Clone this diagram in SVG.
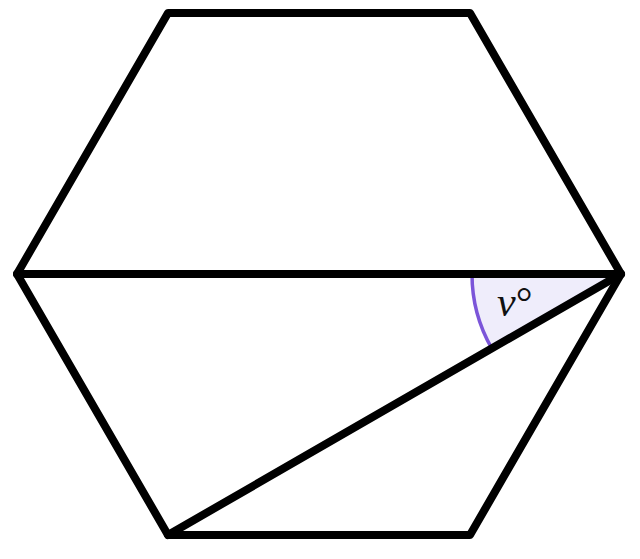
<svg xmlns="http://www.w3.org/2000/svg" width="640" height="559" viewBox="0 0 640 559">
<style>
.edge{fill:none;stroke:#000;stroke-width:8;stroke-linejoin:round;stroke-linecap:round}
.lbl{font-family:"Liberation Serif","DejaVu Serif",serif;font-style:italic;font-size:42px;fill:#111}
</style>
<rect width="640" height="559" fill="#fff"/>
<g id="angle">
<path d="M621 274 L472 274 A149 149 0 0 0 491.9 348.6 Z" fill="#efedfb"/>
<path d="M472 274 A149 149 0 0 0 491.9 348.6" fill="none" stroke="#7b55d9" stroke-width="3.5"/>
<text class="lbl" x="497" y="316">ν<tspan font-style="normal">°</tspan></text>
</g>
<g id="connectors">
<line class="edge" x1="17" y1="274" x2="621" y2="274"/>
<line class="edge" x1="621" y1="274" x2="168" y2="535"/>
</g>
<g id="hexagon">
<polygon class="edge" points="168,13 470,13 621,274 470,535 168,535 17,274"/>
</g>
</svg>
